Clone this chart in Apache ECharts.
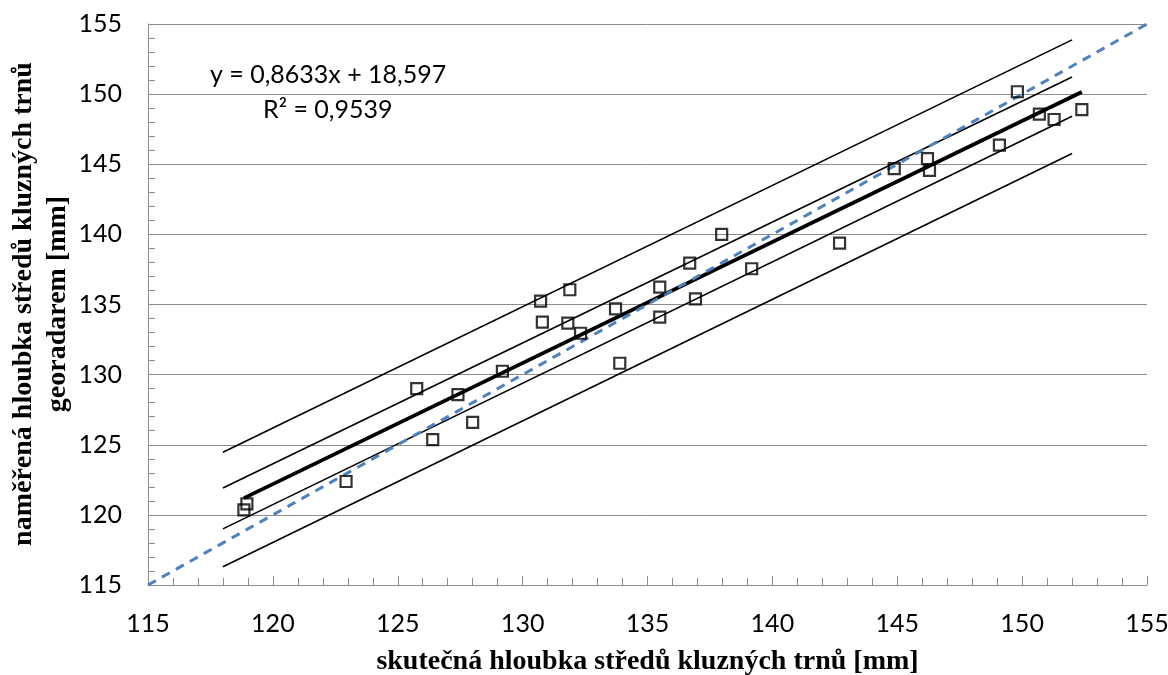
<!DOCTYPE html>
<html>
<head>
<meta charset="utf-8">
<script src="https://cdn.jsdelivr.net/npm/echarts@6/dist/echarts.min.js"></script>
<style>
  html, body { margin: 0; padding: 0; background: #fff; }
  #chart { width: 1168px; height: 675px; }
</style>
</head>
<body>
<div id="chart"></div>
<script>
// Actual depth of dowel centres (x) vs. depth measured by GPR (y), in mm
const actualDepth = [
  118.96, 118.84, 122.93, 125.76, 126.40, 127.41, 128.00, 129.19,
  130.72, 130.79, 131.89, 131.81, 132.32, 133.89, 133.72, 135.49,
  135.49, 136.69, 136.92, 137.97, 139.17, 142.69, 144.88, 146.21,
  146.29, 149.09, 149.81, 150.69, 151.28, 152.39
];
const measuredDepth = [
  120.79, 120.36, 122.38, 129.00, 125.36, 128.57, 126.60, 130.24,
  135.24, 133.74, 136.05, 133.67, 132.95, 130.81, 134.69, 136.24,
  134.10, 137.95, 135.40, 140.00, 137.55, 139.38, 144.69, 145.40,
  144.57, 146.36, 150.17, 148.57, 148.19, 148.90
];

// Linear fit as stated in the equation label
const fitSlope = 0.8633;
const fitIntercept = 18.597;
const rSquared = 0.9539;

// Confidence / prediction band end points
const bandX = [118, 152];
const outerUpper = [124.47, 153.87];
const innerUpper = [121.92, 151.22];
const innerLower = [119.00, 148.42];
const outerLower = [116.30, 145.76];

// Identity line y = x across the axis range
const identityX = [115, 155];

// Axis ranges and ticks
const axisMin = 115, axisMax = 155, axisStep = 5;

// Axis titles
const xTitle = 'skutečná hloubka středů kluzných trnů [mm]';
const yTitle = 'naměřená hloubka středů kluzných trnů\ngeoradarem [mm]';

const fmt = (v, d) => v.toFixed(d).replace('.', ',');
const xMin = Math.min(...actualDepth), xMax = Math.max(...actualDepth);
const fitLine = [xMin, xMax].map(x => [x, fitSlope * x + fitIntercept]);
const pairs = (xs, ys) => xs.map((x, i) => [x, ys[i]]);

const labelFont = 'Lato, "Open Sans", sans-serif';
const titleFont = '"Liberation Serif", "DejaVu Serif", serif';
const gridGray = '#8c8c8c';

const thinLine = (data) => ({
  type: 'line', data, symbol: 'none', silent: true,
  lineStyle: { color: '#000', width: 1.6 }, z: 2
});

const chart = echarts.init(document.getElementById('chart'), null, { renderer: 'canvas' });
chart.setOption({
  animation: false,
  backgroundColor: '#fff',
  grid: { left: 148, right: 21, top: 24, bottom: 90, containLabel: false, outerBoundsMode: 'none' },
  xAxis: {
    type: 'value', min: axisMin, max: axisMax, interval: axisStep,
    name: xTitle,
    nameLocation: 'middle', nameGap: 63,
    nameTextStyle: { fontFamily: titleFont, fontWeight: 'bold', fontSize: 28, color: '#000' },
    axisLine: { lineStyle: { color: gridGray, width: 1 } },
    axisTick: { inside: true, length: 9, lineStyle: { color: gridGray } },
    minorTick: { show: true, splitNumber: 5, length: 7, lineStyle: { color: gridGray } },
    splitLine: { show: false },
    axisLabel: { fontFamily: labelFont, fontSize: 25, color: '#000', margin: 26 }
  },
  yAxis: {
    type: 'value', min: axisMin, max: axisMax, interval: axisStep,
    axisLine: { show: true, lineStyle: { color: gridGray, width: 1 } },
    axisTick: { show: true, inside: true, length: 9, lineStyle: { color: gridGray } },
    minorTick: { show: true, splitNumber: 5, length: 7, lineStyle: { color: gridGray } },
    splitLine: { show: true, lineStyle: { color: gridGray, width: 1 } },
    axisLabel: { fontFamily: labelFont, fontSize: 25, color: '#000', margin: 26 }
  },
  graphic: [
    {
      // vertical axis title, two lines reading bottom to top
      type: 'text', x: 41, y: 304, rotation: Math.PI / 2, z: 10,
      style: { text: yTitle, font: 'bold 28px ' + titleFont, fill: '#000',
               align: 'center', verticalAlign: 'middle', lineHeight: 34 }
    },
    {
      type: 'text', left: 210, top: 62, z: 10,
      style: { text: 'y = ' + fmt(fitSlope, 4) + 'x + ' + fmt(fitIntercept, 3),
               font: '25px ' + labelFont, fill: '#000' }
    },
    {
      type: 'text', left: 263, top: 97, z: 10,
      style: { text: 'R² = ' + fmt(rSquared, 4), font: '25px ' + labelFont, fill: '#000' }
    }
  ],
  series: [
    thinLine(pairs(bandX, outerUpper)),
    thinLine(pairs(bandX, innerUpper)),
    thinLine(pairs(bandX, innerLower)),
    thinLine(pairs(bandX, outerLower)),
    {
      type: 'line', data: fitLine, symbol: 'none', silent: true,
      lineStyle: { color: '#000', width: 3.8 }, z: 3
    },
    {
      type: 'line', data: identityX.map(v => [v, v]), symbol: 'none', silent: true,
      lineStyle: { color: '#4f81bd', width: 3, type: [9, 7] }, z: 4
    },
    {
      type: 'scatter', data: pairs(actualDepth, measuredDepth),
      symbol: 'rect', symbolSize: 11,
      itemStyle: { color: 'rgba(255,255,255,0)', borderColor: '#000', borderWidth: 2.2 }, z: 5
    }
  ]
});
</script>
</body>
</html>
